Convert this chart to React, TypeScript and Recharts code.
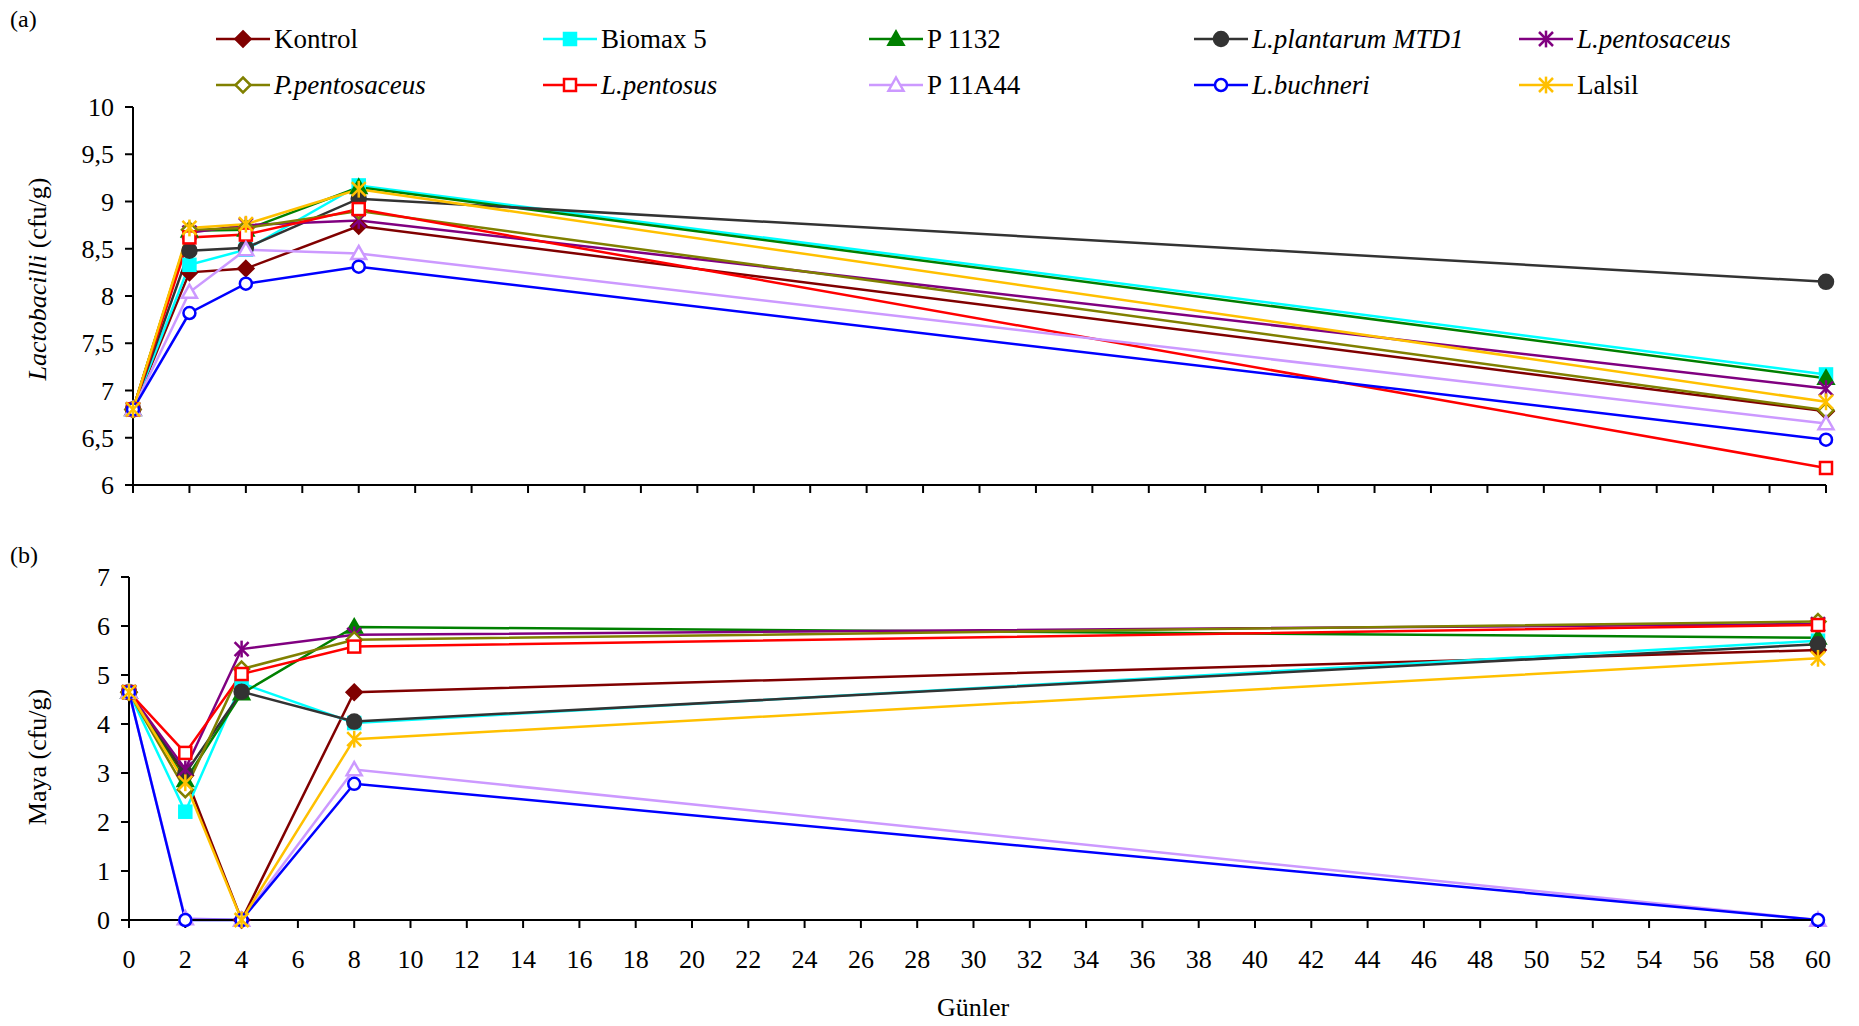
import React from "react";
import { LineChart, Line, XAxis, YAxis } from "recharts";

// sampling days
const days = [0, 2, 4, 8, 60];
const xTicks = [0, 2, 4, 6, 8, 10, 12, 14, 16, 18, 20, 22, 24, 26, 28, 30, 32, 34, 36, 38, 40, 42, 44, 46, 48, 50, 52, 54, 56, 58, 60];
const lactoTicks = [6, 6.5, 7, 7.5, 8, 8.5, 9, 9.5, 10];
const mayaTicks = [0, 1, 2, 3, 4, 5, 6, 7];

// (a) Lactobacilli, log cfu/g
const lactoKontrol = [6.8, 8.25, 8.29, 8.74, 6.78];
const lactoBiomax = [6.8, 8.33, 8.49, 9.17, 7.17];
const lactoP1132 = [6.8, 8.69, 8.7, 9.15, 7.13];
const lactoPlantarum = [6.8, 8.48, 8.51, 9.03, 8.15];
const lactoLPentosaceus = [6.8, 8.67, 8.75, 8.8, 7.02];
const lactoPPentosaceus = [6.8, 8.7, 8.72, 8.9, 6.79];
const lactoPentosus = [6.8, 8.62, 8.65, 8.92, 6.18];
const lactoP11A44 = [6.8, 8.04, 8.49, 8.45, 6.65];
const lactoBuchneri = [6.8, 7.82, 8.13, 8.31, 6.48];
const lactoLalsil = [6.8, 8.72, 8.76, 9.13, 6.88];

// (b) Maya, log cfu/g
const mayaKontrol = [4.65, 2.95, 0, 4.65, 5.51];
const mayaBiomax = [4.65, 2.21, 4.83, 4.02, 5.7];
const mayaP1132 = [4.65, 2.85, 4.62, 5.98, 5.76];
const mayaPlantarum = [4.65, 2.99, 4.66, 4.05, 5.63];
const mayaLPentosaceus = [4.65, 3.08, 5.53, 5.82, 6.04];
const mayaPPentosaceus = [4.65, 2.66, 5.12, 5.72, 6.09];
const mayaPentosus = [4.65, 3.41, 5.02, 5.58, 6.02];
const mayaP11A44 = [4.65, 0.03, 0, 3.07, 0];
const mayaBuchneri = [4.65, 0, 0, 2.78, 0];
const mayaLalsil = [4.65, 2.8, 0, 3.69, 5.34];

type Shape = "diamond" | "square" | "triangle" | "circle" | "star";

const series = [
  { key: "kontrol", name: "Kontrol", italic: false, color: "#800000", shape: "diamond" as Shape, open: false, lacto: lactoKontrol, maya: mayaKontrol },
  { key: "biomax", name: "Biomax 5", italic: false, color: "#00FFFF", shape: "square" as Shape, open: false, lacto: lactoBiomax, maya: mayaBiomax },
  { key: "p1132", name: "P 1132", italic: false, color: "#008000", shape: "triangle" as Shape, open: false, lacto: lactoP1132, maya: mayaP1132 },
  { key: "plantarum", name: "L.plantarum MTD1", italic: true, color: "#333333", shape: "circle" as Shape, open: false, lacto: lactoPlantarum, maya: mayaPlantarum },
  { key: "lpentosaceus", name: "L.pentosaceus", italic: true, color: "#800080", shape: "star" as Shape, open: false, lacto: lactoLPentosaceus, maya: mayaLPentosaceus },
  { key: "ppentosaceus", name: "P.pentosaceus", italic: true, color: "#808000", shape: "diamond" as Shape, open: true, lacto: lactoPPentosaceus, maya: mayaPPentosaceus },
  { key: "pentosus", name: "L.pentosus", italic: true, color: "#FF0000", shape: "square" as Shape, open: true, lacto: lactoPentosus, maya: mayaPentosus },
  { key: "p11a44", name: "P 11A44", italic: false, color: "#CC99FF", shape: "triangle" as Shape, open: true, lacto: lactoP11A44, maya: mayaP11A44 },
  { key: "buchneri", name: "L.buchneri", italic: true, color: "#0000FF", shape: "circle" as Shape, open: true, lacto: lactoBuchneri, maya: mayaBuchneri },
  { key: "lalsil", name: "Lalsil", italic: false, color: "#FFC000", shape: "star" as Shape, open: false, lacto: lactoLalsil, maya: mayaLalsil },
];

const lactoData = days.map((d, i) => {
  const row: Record<string, number> = { day: d };
  series.forEach((s) => (row[s.key] = s.lacto[i]));
  return row;
});
const mayaData = days.map((d, i) => {
  const row: Record<string, number> = { day: d };
  series.forEach((s) => (row[s.key] = s.maya[i]));
  return row;
});

const FONT = "'Liberation Serif', 'Times New Roman', serif";

function Marker({ shape, color, open, x, y }: { shape: Shape; color: string; open: boolean; x: number; y: number }) {
  const fill = open ? "#fff" : color;
  const sw = 2.5;
  if (shape === "diamond") {
    const r = 7.5;
    return <polygon points={`${x},${y - r} ${x + r},${y} ${x},${y + r} ${x - r},${y}`} fill={fill} stroke={color} strokeWidth={sw} />;
  }
  if (shape === "square") {
    const r = 6;
    return <rect x={x - r} y={y - r} width={2 * r} height={2 * r} fill={fill} stroke={color} strokeWidth={sw} />;
  }
  if (shape === "triangle") {
    const r = 7.5;
    return <polygon points={`${x},${y - r} ${x + r},${y + r * 0.75} ${x - r},${y + r * 0.75}`} fill={fill} stroke={color} strokeWidth={sw} />;
  }
  if (shape === "circle") {
    return <circle cx={x} cy={y} r={open ? 6 : 7} fill={fill} stroke={color} strokeWidth={sw} />;
  }
  const r = 7;
  return (
    <g stroke={color} strokeWidth={2.5}>
      <line x1={x - r} y1={y - r} x2={x + r} y2={y + r} />
      <line x1={x - r} y1={y + r} x2={x + r} y2={y - r} />
      <line x1={x} y1={y - r * 1.2} x2={x} y2={y + r * 1.2} />
    </g>
  );
}

const axisStyle = { stroke: "#000", strokeWidth: 2 };
const tickStyle = { fill: "#000", fontSize: 26, fontFamily: FONT };

function renderLines() {
  return series.map((s) => (
    <Line
      key={s.key}
      dataKey={s.key}
      type="linear"
      stroke={s.color}
      strokeWidth={2.5}
      isAnimationActive={false}
      dot={(p: any) => <Marker key={`${s.key}-${p.index}`} shape={s.shape} color={s.color} open={s.open} x={p.cx} y={p.cy} />}
      activeDot={false}
    />
  ));
}

export default function App() {
  const legendCols = [216, 543, 869, 1194, 1519];
  const legendRows = [39, 85];
  return (
    <div style={{ position: "absolute", left: 0, top: 0, width: 1859, height: 1026, background: "#fff", fontFamily: FONT }}>
      <style>{`.recharts-cartesian-axis-tick-value, .recharts-text { font-family: ${FONT}; }`}</style>
      <div style={{ position: "absolute", left: 0, top: 0 }}>
        <LineChart width={1859} height={520} data={lactoData} margin={{ top: 107, right: 33, bottom: 5, left: 73 }}>
          <XAxis
            dataKey="day"
            type="number"
            domain={[0, 60]}
            ticks={xTicks}
            interval={0}
            height={30}
            axisLine={axisStyle}
            tickLine={axisStyle}
            tickSize={8}
            tickFormatter={() => ""}
          />
          <YAxis
            type="number"
            domain={[6, 10]}
            ticks={lactoTicks}
            interval={0}
            width={60}
            axisLine={axisStyle}
            tickLine={axisStyle}
            tickSize={8}
            tickMargin={11}
            tick={tickStyle}
            tickFormatter={(v: number) => String(v).replace(".", ",")}
          />
          {renderLines()}
        </LineChart>
      </div>
      <div style={{ position: "absolute", left: 0, top: 520 }}>
        <LineChart width={1859} height={506} data={mayaData} margin={{ top: 57, right: 41, bottom: 46, left: 69 }}>
          <XAxis
            dataKey="day"
            type="number"
            domain={[0, 60]}
            ticks={xTicks}
            interval={0}
            height={60}
            axisLine={axisStyle}
            tickLine={axisStyle}
            tickSize={8}
            tickMargin={22}
            tick={tickStyle}
          />
          <YAxis
            type="number"
            domain={[0, 7]}
            ticks={mayaTicks}
            interval={0}
            width={60}
            axisLine={axisStyle}
            tickLine={axisStyle}
            tickSize={8}
            tickMargin={11}
            tick={tickStyle}
          />
          {renderLines()}
        </LineChart>
      </div>
      <svg width={1859} height={1026} style={{ position: "absolute", left: 0, top: 0, pointerEvents: "none" }} fontFamily={FONT}>
        <text x={10} y={27} fontSize={24} fill="#000">(a)</text>
        <text x={10} y={563} fontSize={24} fill="#000">(b)</text>
        <text transform="translate(46,279) rotate(-90)" textAnchor="middle" fontSize={26} fill="#000">
          <tspan fontStyle="italic">Lactobacilli</tspan>
          <tspan> (cfu/g)</tspan>
        </text>
        <text transform="translate(46,757) rotate(-90)" textAnchor="middle" fontSize={26} fill="#000">
          Maya (cfu/g)
        </text>
        <text x={973} y={1016} textAnchor="middle" fontSize={26} fill="#000">Günler</text>
        {series.map((s, i) => {
          const x = legendCols[i % 5];
          const y = legendRows[Math.floor(i / 5)];
          return (
            <g key={s.key}>
              <line x1={x} y1={y} x2={x + 54} y2={y} stroke={s.color} strokeWidth={2.5} />
              <Marker shape={s.shape} color={s.color} open={s.open} x={x + 27} y={y} />
              <text x={x + 58} y={y + 9} fontSize={27} fontStyle={s.italic ? "italic" : "normal"} fill="#000">
                {s.name}
              </text>
            </g>
          );
        })}
      </svg>
    </div>
  );
}
